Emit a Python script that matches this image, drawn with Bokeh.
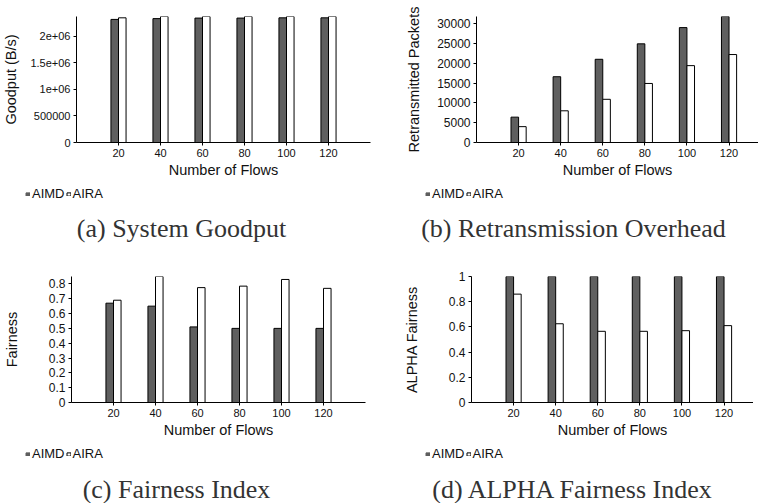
from bokeh.plotting import figure
from bokeh.layouts import column, row
from bokeh.models import (FixedTicker, Range1d, Label, Legend, LegendItem,
                          ColumnDataSource)
from bokeh.transform import dodge
from bokeh.embed import file_html
from bokeh.resources import INLINE

# ---------------- data ----------------
flows = [20, 40, 60, 80, 100, 120]
series_names = ["AIMD", "AIRA"]

goodput_aimd = [2320000, 2335000, 2345000, 2345000, 2350000, 2350000]
goodput_aira = [2350000, 2375000, 2375000, 2375000, 2375000, 2375000]

retrans_aimd = [6400, 16600, 21000, 24900, 29000, 31800]
retrans_aira = [4000, 8000, 10900, 14900, 19400, 22200]

fair_aimd = [0.67, 0.65, 0.51, 0.50, 0.50, 0.50]
fair_aira = [0.69, 0.85, 0.775, 0.785, 0.83, 0.77]

alpha_aimd = [1.0, 1.0, 1.0, 1.0, 1.0, 1.0]
alpha_aira = [0.86, 0.625, 0.565, 0.565, 0.57, 0.61]

goodput_ticks = [0, 500000, 1000000, 1500000, 2000000]
goodput_tick_labels = ["0", "500000", "1e+06", "1.5e+06", "2e+06"]
retrans_ticks = [0, 5000, 10000, 15000, 20000, 25000, 30000]
retrans_tick_labels = ["0", "5000", "10000", "15000", "20000", "25000", "30000"]
fair_ticks = [0, 0.1, 0.2, 0.3, 0.4, 0.5, 0.6, 0.7, 0.8]
fair_tick_labels = ["0", "0.1", "0.2", "0.3", "0.4", "0.5", "0.6", "0.7", "0.8"]
alpha_ticks = [0, 0.2, 0.4, 0.6, 0.8, 1.0]
alpha_tick_labels = ["0", "0.2", "0.4", "0.6", "0.8", "1"]

x_label = "Number of Flows"
y_labels = ["Goodput (B/s)", "Retransmitted Packets", "Fairness", "ALPHA Fairness"]
captions = ["(a) System Goodput", "(b) Retransmission Overhead",
            "(c) Fairness Index", "(d) ALPHA Fairness Index"]

# ---------------- style ----------------
SANS = "Liberation Sans"
SERIF = "Liberation Serif"
DARK = "#5f5f5f"
TEXT = "#111111"
LABEL_FS = "14.5px"


def make_chart(aimd, aira, ticks, tick_labels, ylabel, left, right, top,
               frame_w, x_end, ylab_standoff, ytick_fs):
    src = ColumnDataSource(dict(flows=flows, aimd=aimd, aira=aira))
    p = figure(frame_width=frame_w, frame_height=126,
               min_border_left=left, min_border_right=right,
               min_border_top=top, min_border_bottom=38,
               x_range=Range1d(0, x_end), y_range=Range1d(0, max(aimd + aira)),
               output_backend="svg", toolbar_location=None, tools="")
    p.outline_line_color = None
    p.grid.visible = False
    p.background_fill_color = "white"
    p.border_fill_color = "white"

    p.vbar(x=dodge("flows", -1.8, range=p.x_range), top="aimd", width=3.6,
           source=src, fill_color=DARK, line_color="black", line_width=1)
    p.vbar(x=dodge("flows", 1.8, range=p.x_range), top="aira", width=3.6,
           source=src, fill_color="white", line_color="black", line_width=1)

    for ax in (p.xaxis[0], p.yaxis[0]):
        ax.axis_line_color = "black"
        ax.major_tick_line_color = "black"
        ax.major_tick_out = 3
        ax.major_tick_in = 0
        ax.minor_tick_line_color = None
        ax.major_label_text_font = SANS
        ax.major_label_text_color = TEXT
        ax.axis_label_text_font = SANS
        ax.axis_label_text_font_size = LABEL_FS
        ax.axis_label_text_font_style = "normal"
        ax.axis_label_text_color = TEXT
        ax.major_label_standoff = 3

    p.xaxis.major_label_text_font_size = "11px"
    p.yaxis.major_label_text_font_size = ytick_fs
    p.xaxis.ticker = FixedTicker(ticks=flows)
    p.xaxis.axis_label = x_label
    p.xaxis.axis_label_standoff = 2
    p.yaxis.ticker = FixedTicker(ticks=ticks)
    p.yaxis.major_label_overrides = {t: s for t, s in zip(ticks, tick_labels)}
    p.yaxis.axis_label = ylabel
    p.yaxis.axis_label_standoff = ylab_standoff
    return p


def make_caption(width, height, caption, leg_x, leg_y, cap_x, cap_y):
    f = figure(frame_width=width, frame_height=height, min_border=0,
               x_range=Range1d(0, 1), y_range=Range1d(0, 1),
               x_axis_type=None, y_axis_type=None,
               output_backend="svg", toolbar_location=None, tools="")
    f.outline_line_color = None
    f.background_fill_color = "white"
    f.border_fill_color = "white"
    # hidden renderers that only supply the legend swatches
    swatch = ColumnDataSource(dict(x=[0.5], top=[1]))
    r1 = f.vbar(x="x", top="top", width=1, source=swatch,
                fill_color=DARK, line_color=DARK, visible=False)
    r2 = f.vbar(x="x", top="top", width=1, source=swatch,
                fill_color="white", line_color="black", visible=False)
    legend = Legend(items=[LegendItem(label=series_names[0], renderers=[r1]),
                           LegendItem(label=series_names[1], renderers=[r2])],
                    orientation="horizontal", location=(leg_x, leg_y),
                    glyph_width=5, glyph_height=4, label_height=11,
                    label_standoff=2, spacing=1, padding=0, margin=0,
                    label_text_font=SANS, label_text_font_size="13px",
                    label_text_color=TEXT, label_text_baseline="middle",
                    inactive_fill_alpha=0,
                    border_line_color=None, background_fill_alpha=0)
    f.add_layout(legend)
    f.add_layout(Label(x=cap_x, y=cap_y, x_units="screen", y_units="screen",
                       text=caption, text_font=SERIF, text_font_size="26px",
                       text_align="center", text_baseline="middle",
                       text_color="#333333"))
    return f


pa = make_chart(goodput_aimd, goodput_aira, goodput_ticks, goodput_tick_labels,
                y_labels[0], 67, 19, 16, 294, 140, 8, "11px")
pb = make_chart(retrans_aimd, retrans_aira, retrans_ticks, retrans_tick_labels,
                y_labels[1], 87, 0, 16, 282, 134, 12, "12px")
pc = make_chart(fair_aimd, fair_aira, fair_ticks, fair_tick_labels,
                y_labels[2], 67, 19, 24, 294, 140, 26, "12px")
pd = make_chart(alpha_aimd, alpha_aira, alpha_ticks, alpha_tick_labels,
                y_labels[3], 87, 0, 24, 282, 134, 26, "12px")

ca = make_caption(388, 72, captions[0], 25, 51, 181, 24)
cb = make_caption(369, 72, captions[1], 37, 51, 185, 24)
cc = make_caption(388, 63, captions[2], 25, 42, 176, 14)
cd = make_caption(369, 63, captions[3], 37, 42, 185, 14)

layout = column(row(pa, pb), row(ca, cb), row(pc, pd), row(cc, cd))
open("out.html", "w").write(file_html(layout, INLINE))
